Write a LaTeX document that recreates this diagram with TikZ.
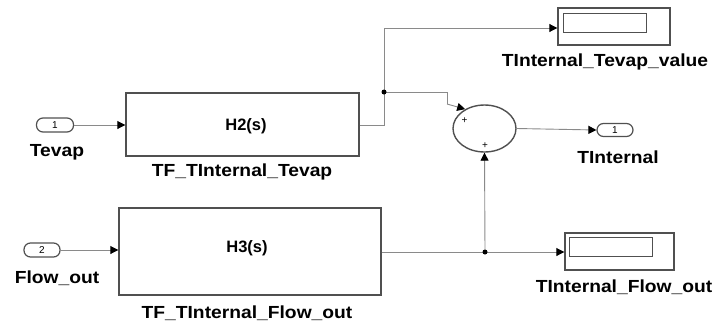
\documentclass[tikz,border=0pt]{standalone}
\usepackage{fontspec}
\setmainfont{Liberation Sans}
\usetikzlibrary{arrows.meta,shapes.geometric}
\definecolor{wire}{HTML}{8A8A8A}
\definecolor{edge}{HTML}{505050}
\begin{document}
\begin{tikzpicture}[x=1pt,y=-1pt,
  blk/.style={draw=edge,line width=1.4pt,fill=white,inner sep=0pt},
  port/.style={draw=edge,line width=1.2pt,rounded corners=6.5pt,inner sep=0pt,font=\fontsize{10}{10}\selectfont},
  lbl/.style={font=\bfseries\fontsize{17.5}{18}\selectfont,xscale=1.1,inner sep=0pt},
  tf/.style={font=\fontsize{16.5}{17}\selectfont,inner sep=0pt},
  wirel/.style={draw=wire,line width=0.9pt},
  arr/.style={wirel,-{Triangle[black,length=8pt,width=8pt]}},
  dot/.style={circle,fill=black,inner sep=0pt,minimum size=5pt}]
\useasboundingbox (0,0) rectangle (717,327);
% inports
\node[port,minimum width=37pt,minimum height=14pt] (in1) at (55,125) {1};
\node[lbl] (in1l) at (57,152) {Tevap};
\node[port,minimum width=36pt,minimum height=14pt] (in2) at (42,250) {2};
\node[lbl] (in2l) at (57,278) {Flow\_out};
% transfer functions
\node[blk,minimum width=233pt,minimum height=63pt] (h2) at (242.5,124.5) {};
\node[tf] (h2t) at (246,126) {\textbf{H2(s)}};
\node[lbl] (h2l) at (242,172) {TF\_TInternal\_Tevap};
\node[blk,minimum width=262pt,minimum height=87pt] (h3) at (250,251.5) {};
\node[tf] (h3t) at (247,248) {\textbf{H3(s)}};
\node[lbl] (h3l) at (247,313) {TF\_TInternal\_Flow\_out};
% scopes
\node[blk,minimum width=112pt,minimum height=37pt] (sc1) at (614,26.5) {};
\node[draw=edge,line width=1pt,minimum width=83pt,minimum height=19pt,inner sep=0pt] (sc1i) at (605,22.5) {};
\node[lbl] (sc1l) at (605,62) {TInternal\_Tevap\_value};
\node[blk,minimum width=109pt,minimum height=37pt] (sc2) at (619.5,251.5) {};
\node[draw=edge,line width=1pt,minimum width=83pt,minimum height=19pt,inner sep=0pt] (sc2i) at (610.5,246.5) {};
\node[lbl] (sc2l) at (624,287) {TInternal\_Flow\_out};
% sum
\node[ellipse,draw=edge,line width=1.4pt,minimum width=63pt,minimum height=47pt,inner sep=0pt] (sum) at (484.5,128.5) {};
\node[inner sep=0pt,font=\fontsize{10}{10}\selectfont] (p1) at (464.5,121) {+};
\node[inner sep=0pt,font=\fontsize{10}{10}\selectfont] (p2) at (485,146) {+};
% outport
\node[port,minimum width=36pt,minimum height=13pt] (out1) at (615,130) {1};
\node[lbl] (out1l) at (618,157) {TInternal};
% junctions
\coordinate (j1) at (384,92);
\coordinate (j2) at (485,252);
\coordinate (b1) at (447,92);
\coordinate (b2) at (447,104);
% wires
\draw[arr] (in1.east) -- (h2.west |- in1.east);
\draw[arr] (in2.east) -- (h3.west |- in2.east);
\draw[wirel] (h2.east |- 0,125) -| (j1);
\draw[arr] (j1) |- (sc1.west |- 0,28);
\draw[wirel] (j1) -- (b1) -- (b2);
\draw[arr] (b2) -- (sum.135);
\draw[arr] (sum.east) -- (out1.west);
\draw[wirel] (h3.east |- j2) -- (j2);
\draw[arr] (j2) -- (sc2.west |- j2);
\draw[arr] (j2) -- (sum.south);
\node[dot] (d1) at (j1) {};
\node[dot] (d2) at (j2) {};
\end{tikzpicture}
\end{document}
